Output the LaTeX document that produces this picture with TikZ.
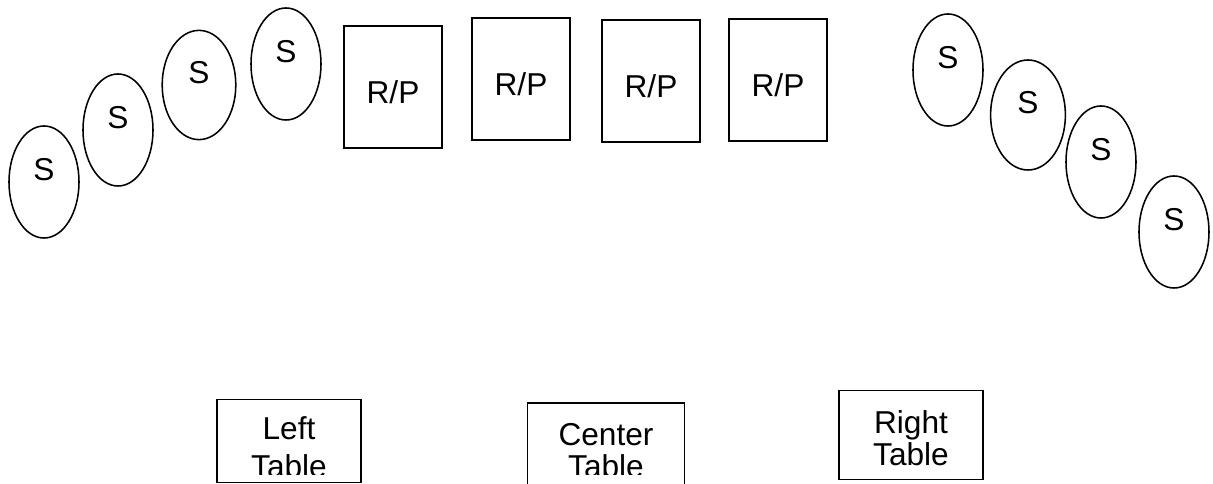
\documentclass[tikz,border=0pt]{standalone}
\usepackage{fontspec}
\setmainfont{Liberation Sans}
\usetikzlibrary{shapes.geometric}

\newcommand{\bigtext}{\fontsize{22.5}{22.8}\selectfont}

\tikzset{
  seat/.style={ellipse,draw,line width=1.1pt,minimum width=1.75cm,minimum height=2.8cm,inner sep=0pt,
    label={[font=\bigtext,yshift=0.31cm]center:S}},
  podium/.style={rectangle,draw,line width=1.1pt,minimum width=2.45cm,minimum height=3.05cm,inner sep=0pt,
    label={[font=\bigtext,yshift=-0.13cm]center:R/P}},
  tablebox/.style={rectangle,draw,line width=1.1pt,minimum height=2.1cm,inner sep=0pt},
  tabletext/.style={align=center,font=\bigtext,inner sep=0pt}
}

\begin{document}
\begin{tikzpicture}[x=0.025cm,y=-0.025cm]
\useasboundingbox (0,0) rectangle (1213,484);

% seats on the left
\node[seat] (s1) at (44,182) {};
\node[seat] (s2) at (118,130) {};
\node[seat,minimum width=1.84cm,minimum height=2.73cm] (s3) at (199,85) {};
\node[seat] (s4) at (286,64) {};

% readers / presenters
\node[podium] (rp1) at (393,87) {};
\node[podium] (rp2) at (521,79) {};
\node[podium] (rp3) at (651,81) {};
\node[podium] (rp4) at (778,80) {};

% seats on the right
\node[seat] (s5) at (948,70) {};
\node[seat,minimum width=1.87cm,minimum height=2.75cm] (s6) at (1028,115) {};
\node[seat] (s7) at (1101,162) {};
\node[seat] (s8) at (1174,232) {};

% tables
\node[tablebox,minimum width=3.59cm,minimum height=2.085cm] (lt) at (289,441) {};
\node[tablebox,minimum width=3.93cm] (ct) at (606,445) {};
\node[tablebox,minimum width=3.61cm,minimum height=2.23cm] (rt) at (911,435) {};
\begin{scope}
  \clip (200,380) rectangle (700,475);
  \node[tabletext] (lt-text) at (289,447.5) {Left\\[4.2pt]Table};
  \node[tabletext] (ct-text) at (606,450.5) {Center\\Table};
\end{scope}
\node[tabletext] (rt-text) at (911,438.6) {Right\\Table};
\end{tikzpicture}
\end{document}
